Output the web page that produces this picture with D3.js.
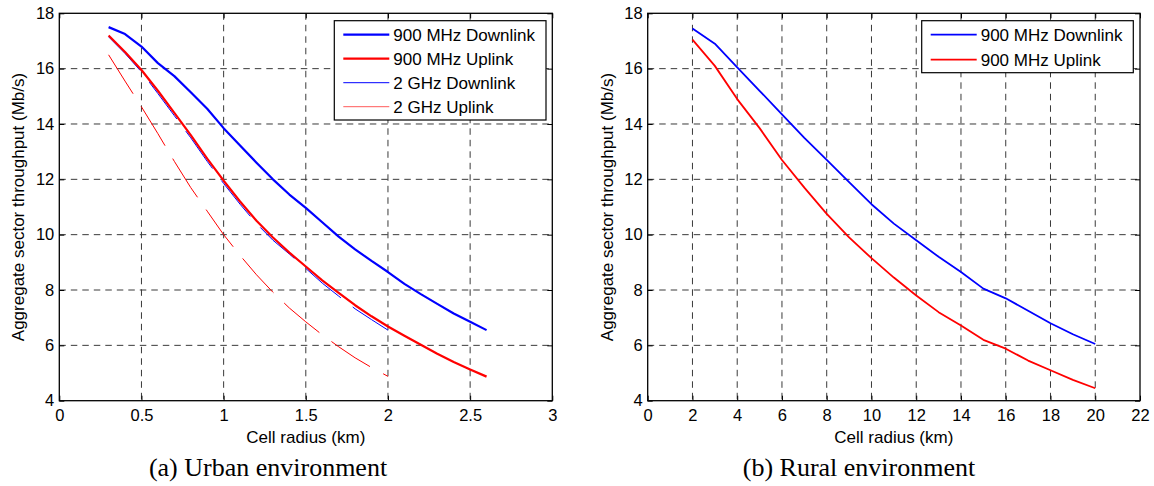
<!DOCTYPE html>
<html>
<head>
<meta charset="utf-8">
<script src="https://cdn.jsdelivr.net/npm/d3@7"></script>
<style>
  body { margin: 0; background: #fff; }
  text { font-family: "Liberation Sans", Arial, sans-serif; fill: #000; }
  .caption { font-family: "Liberation Serif", "Times New Roman", serif; }
</style>
</head>
<body>
<div id="chart"></div>
<script>
// Urban environment (a)
const urbanRadius = [0.3, 0.4, 0.5, 0.6, 0.7, 0.8, 0.9, 1.0, 1.1, 1.2, 1.3, 1.4, 1.5, 1.6, 1.7, 1.8, 1.9, 2.0, 2.1, 2.2, 2.3, 2.4, 2.5, 2.6];
const urbanDl900 = [17.5, 17.25, 16.8, 16.2, 15.73, 15.15, 14.55, 13.85, 13.22, 12.6, 12.0, 11.45, 10.97, 10.45, 9.93, 9.47, 9.05, 8.65, 8.22, 7.85, 7.5, 7.15, 6.85, 6.55];
const urbanUl900 = [17.2, 16.6, 15.95, 15.2, 14.4, 13.6, 12.75, 11.95, 11.2, 10.5, 9.9, 9.35, 8.85, 8.35, 7.9, 7.45, 7.05, 6.68, 6.35, 6.02, 5.7, 5.4, 5.13, 4.87];
const urbanRadius2g = [0.3, 0.4, 0.5, 0.6, 0.7, 0.8, 0.9, 1.0, 1.1, 1.2, 1.3, 1.4, 1.5, 1.6, 1.7, 1.8, 1.9, 2.0];
const urbanDl2g = [17.15, 16.55, 15.88, 15.1, 14.3, 13.5, 12.65, 11.85, 11.1, 10.4, 9.8, 9.3, 8.78, 8.25, 7.78, 7.32, 6.93, 6.55];
const urbanUl2g = [16.5, 15.55, 14.62, 13.65, 12.65, 11.7, 10.85, 10.0, 9.25, 8.55, 7.92, 7.35, 6.85, 6.38, 5.95, 5.55, 5.2, 4.88];

// Rural environment (b)
const ruralRadius = [2, 3, 4, 5, 6, 7, 8, 9, 10, 11, 12, 13, 14, 15, 16, 17, 18, 19, 20];
const ruralDl900 = [17.45, 16.9, 16.05, 15.2, 14.35, 13.5, 12.7, 11.9, 11.1, 10.4, 9.8, 9.2, 8.65, 8.05, 7.7, 7.25, 6.8, 6.4, 6.05];
const ruralUl900 = [17.05, 16.1, 14.9, 13.85, 12.7, 11.7, 10.75, 9.9, 9.15, 8.45, 7.8, 7.2, 6.72, 6.2, 5.88, 5.45, 5.1, 4.75, 4.45];

const urbanXTicks = [0, 0.5, 1, 1.5, 2, 2.5, 3];
const ruralXTicks = [0, 2, 4, 6, 8, 10, 12, 14, 16, 18, 20, 22];
const yTicks = [4, 6, 8, 10, 12, 14, 16, 18];

const width = 1154;
const height = 486;

const svg = d3.select('#chart')
  .append('svg')
  .attr('width', width)
  .attr('height', height);

svg.append('rect')
  .attr('width', width)
  .attr('height', height)
  .attr('fill', '#fff');

function drawPanel(opts) {
  const x = d3.scaleLinear().domain(opts.xDomain).range([opts.left, opts.right]);
  const y = d3.scaleLinear().domain([4, 18]).range([opts.bottom, opts.top]);
  const g = svg.append('g');

  // grid
  g.selectAll('.vgrid')
    .data(opts.xTicks.slice(1, -1))
    .enter()
    .append('line')
    .attr('x1', d => x(d)).attr('x2', d => x(d))
    .attr('y1', opts.top).attr('y2', opts.bottom)
    .attr('stroke', '#3a3a3a')
    .attr('stroke-width', 1)
    .attr('stroke-dasharray', '6.5,5');

  g.selectAll('.hgrid')
    .data(yTicks.slice(1, -1))
    .enter()
    .append('line')
    .attr('x1', opts.left).attr('x2', opts.right)
    .attr('y1', d => y(d)).attr('y2', d => y(d))
    .attr('stroke', '#3a3a3a')
    .attr('stroke-width', 1)
    .attr('stroke-dasharray', '6.5,5');

  // series
  const line = d3.line()
    .x(d => x(d[0]))
    .y(d => y(d[1]));

  opts.series.forEach(s => {
    g.append('path')
      .datum(d3.zip(s.x, s.y))
      .attr('d', line)
      .attr('fill', 'none')
      .attr('stroke', s.color)
      .attr('stroke-width', s.width)
      .attr('stroke-dasharray', s.dash || null)
      .attr('stroke-linejoin', 'round');
  });

  // axes with inward ticks on all four sides
  g.append('g')
    .attr('transform', `translate(0,${opts.bottom})`)
    .call(d3.axisBottom(x).tickValues(opts.xTicks).tickSize(-5).tickPadding(9).tickFormat(d3.format('~g')))
    .call(a => a.select('.domain').remove())
    .call(a => a.selectAll('text').style('font-size', '16.5px').attr('font-family', null));

  g.append('g')
    .attr('transform', `translate(0,${opts.top})`)
    .call(d3.axisTop(x).tickValues(opts.xTicks).tickSize(-5).tickFormat(''))
    .call(a => a.select('.domain').remove());

  g.append('g')
    .attr('transform', `translate(${opts.left},0)`)
    .call(d3.axisLeft(y).tickValues(yTicks).tickSize(-5).tickPadding(5))
    .call(a => a.select('.domain').remove())
    .call(a => a.selectAll('text').style('font-size', '16.5px').attr('font-family', null));

  g.append('g')
    .attr('transform', `translate(${opts.right},0)`)
    .call(d3.axisRight(y).tickValues(yTicks).tickSize(-5).tickFormat(''))
    .call(a => a.select('.domain').remove());

  g.selectAll('.tick line').attr('stroke', '#000');

  g.append('rect')
    .attr('x', opts.left).attr('y', opts.top)
    .attr('width', opts.right - opts.left)
    .attr('height', opts.bottom - opts.top)
    .attr('fill', 'none')
    .attr('stroke', '#000')
    .attr('stroke-width', 1.3);

  // labels
  g.append('text')
    .attr('x', (opts.left + opts.right) / 2)
    .attr('y', 443)
    .attr('text-anchor', 'middle')
    .style('font-size', '17px')
    .text('Cell radius (km)');

  g.append('text')
    .attr('transform', `translate(${opts.yLabelX},${(opts.top + opts.bottom) / 2}) rotate(-90)`)
    .attr('text-anchor', 'middle')
    .attr('dy', '0.35em')
    .style('font-size', '17px')
    .text('Aggregate sector throughput (Mb/s)');

  g.append('text')
    .attr('class', 'caption')
    .attr('x', opts.captionX)
    .attr('y', 476)
    .attr('text-anchor', 'middle')
    .style('font-size', '26px')
    .text(opts.caption);

  // legend
  const lg = g.append('g');
  lg.append('rect')
    .attr('x', opts.legend.x).attr('y', opts.legend.y)
    .attr('width', opts.legend.w).attr('height', opts.legend.h)
    .attr('fill', '#fff')
    .attr('stroke', '#000')
    .attr('stroke-width', 1.2);

  const items = lg.selectAll('.item')
    .data(opts.series.slice().sort((a, b) => a.order - b.order))
    .enter()
    .append('g')
    .attr('transform', (d, i) => `translate(${opts.legend.x},${opts.legend.y + 14 + i * opts.legend.step})`);

  items.append('line')
    .attr('x1', 9).attr('x2', 55)
    .attr('stroke', d => d.legendColor || d.color)
    .attr('stroke-width', d => d.width);

  items.append('text')
    .attr('x', 59)
    .attr('dy', '0.35em')
    .style('font-size', '17px')
    .text(d => d.name);
}

drawPanel({
  left: 59.3, right: 552.3, top: 13.3, bottom: 400.7,
  xDomain: [0, 3],
  xTicks: urbanXTicks,
  yLabelX: 18,
  captionX: 268,
  caption: '(a) Urban environment',
  legend: { x: 334.3, y: 20.7, w: 211.7, h: 99.3, step: 24 },
  series: [
    { name: '2 GHz Downlink', order: 2, x: urbanRadius2g, y: urbanDl2g, color: '#0000ff', width: 1, dash: '46,15' },
    { name: '2 GHz Uplink', order: 3, x: urbanRadius2g, y: urbanUl2g, color: '#ff0000', legendColor: '#ff5a5a', width: 1, dash: '46,15' },
    { name: '900 MHz Downlink', order: 0, x: urbanRadius, y: urbanDl900, color: '#0000ff', width: 2.2 },
    { name: '900 MHz Uplink', order: 1, x: urbanRadius, y: urbanUl900, color: '#ff0000', width: 2.2 }
  ]
});

drawPanel({
  left: 647.7, right: 1140, top: 13.3, bottom: 400.7,
  xDomain: [0, 22],
  xTicks: ruralXTicks,
  yLabelX: 607,
  captionX: 859,
  caption: '(b) Rural environment',
  legend: { x: 921.7, y: 20.7, w: 211.6, h: 52, step: 25 },
  series: [
    { name: '900 MHz Downlink', order: 0, x: ruralRadius, y: ruralDl900, color: '#0000ff', width: 1.8 },
    { name: '900 MHz Uplink', order: 1, x: ruralRadius, y: ruralUl900, color: '#ff0000', width: 1.8 }
  ]
});
</script>
</body>
</html>
